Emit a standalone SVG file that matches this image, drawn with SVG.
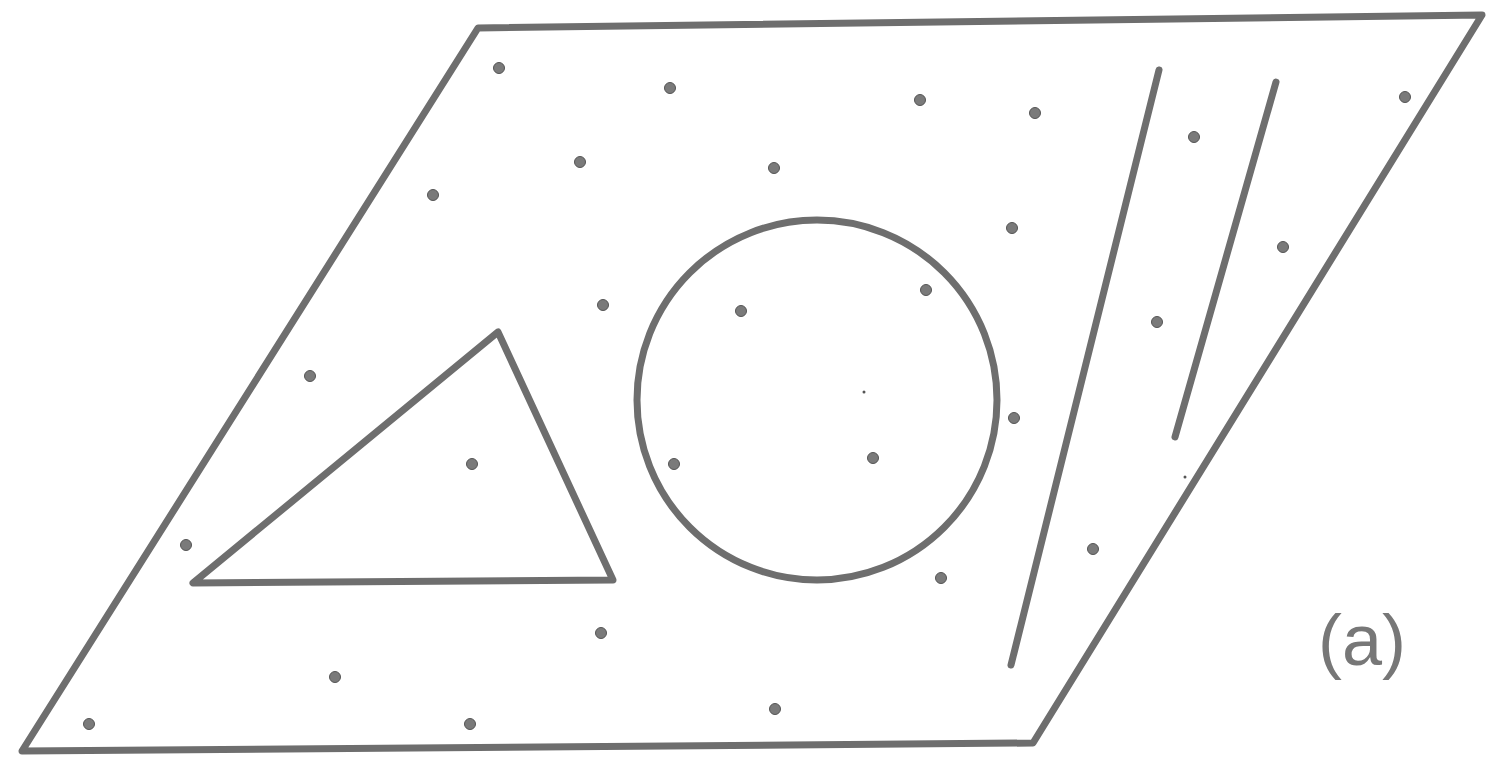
<svg xmlns="http://www.w3.org/2000/svg" width="1494" height="760" viewBox="0 0 1494 760">
<style>
.s{fill:none;stroke:#6e6e6e;stroke-width:7;stroke-linejoin:round;stroke-linecap:round}
.d{fill:#7a7a7a;stroke:#555;stroke-width:1}
.t{font-family:"Liberation Sans",Arial,sans-serif;font-size:72px;fill:#777}
</style>
<rect width="1494" height="760" fill="#fff"/>
<g id="plane"><path class="s" d="M22,751 L478,28 L1482,15 L1033,743 Z"/></g>
<g id="triangle"><path class="s" d="M498,332 L193,583 L613,580 Z"/></g>
<g id="circle"><circle class="s" cx="817" cy="400" r="180"/></g>
<g id="lines">
<line class="s" x1="1159" y1="70" x2="1011" y2="665"/>
<line class="s" x1="1276" y1="82" x2="1175" y2="437"/>
</g>
<g id="points">
<circle class="d" cx="499" cy="68" r="5.5"/>
<circle class="d" cx="670" cy="88" r="5.5"/>
<circle class="d" cx="920" cy="100" r="5.5"/>
<circle class="d" cx="1035" cy="113" r="5.5"/>
<circle class="d" cx="1194" cy="137" r="5.5"/>
<circle class="d" cx="1405" cy="97" r="5.5"/>
<circle class="d" cx="580" cy="162" r="5.5"/>
<circle class="d" cx="433" cy="195" r="5.5"/>
<circle class="d" cx="774" cy="168" r="5.5"/>
<circle class="d" cx="1012" cy="228" r="5.5"/>
<circle class="d" cx="1283" cy="247" r="5.5"/>
<circle class="d" cx="603" cy="305" r="5.5"/>
<circle class="d" cx="741" cy="311" r="5.5"/>
<circle class="d" cx="926" cy="290" r="5.5"/>
<circle class="d" cx="1157" cy="322" r="5.5"/>
<circle class="d" cx="310" cy="376" r="5.5"/>
<circle class="d" cx="1014" cy="418" r="5.5"/>
<circle class="d" cx="472" cy="464" r="5.5"/>
<circle class="d" cx="674" cy="464" r="5.5"/>
<circle class="d" cx="873" cy="458" r="5.5"/>
<circle class="d" cx="186" cy="545" r="5.5"/>
<circle class="d" cx="1093" cy="549" r="5.5"/>
<circle class="d" cx="941" cy="578" r="5.5"/>
<circle class="d" cx="601" cy="633" r="5.5"/>
<circle class="d" cx="335" cy="677" r="5.5"/>
<circle class="d" cx="775" cy="709" r="5.5"/>
<circle class="d" cx="89" cy="724" r="5.5"/>
<circle class="d" cx="470" cy="724" r="5.5"/>
<circle cx="864" cy="392" r="1.5" fill="#555"/>
<circle cx="1185" cy="477" r="1.5" fill="#555"/>
</g>
<text class="t" x="1318" y="665">(a)</text>
</svg>
